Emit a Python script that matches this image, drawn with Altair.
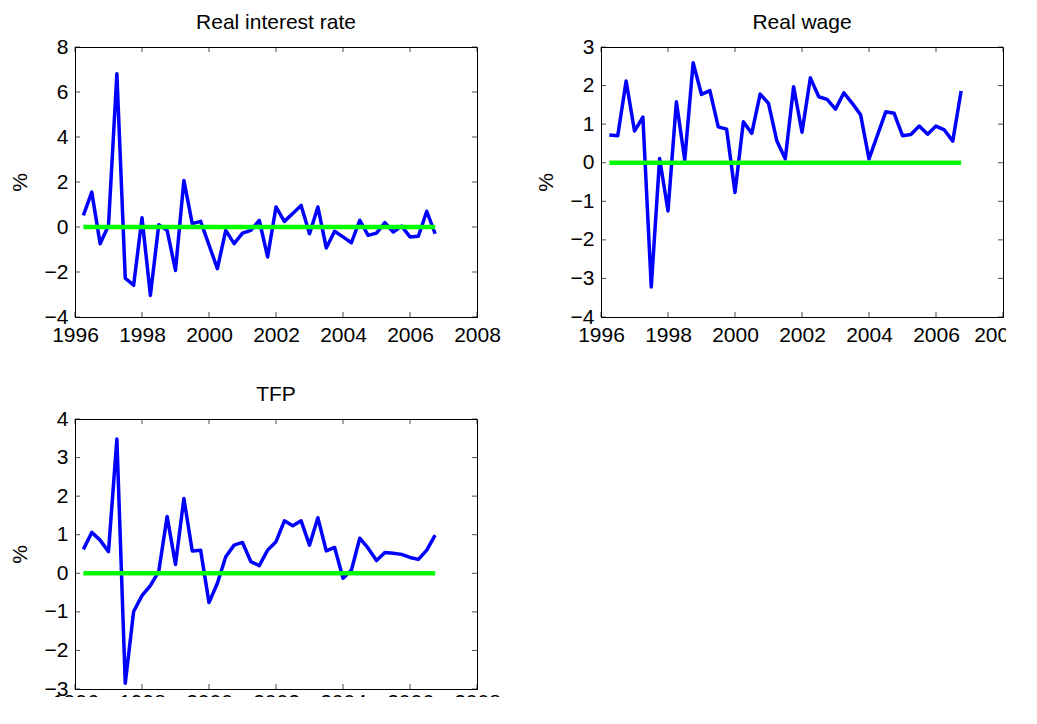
import altair as alt
import pandas as pd

quarters = [1996.25, 1996.5, 1996.75, 1997.0, 1997.25, 1997.5, 1997.75, 1998.0,
            1998.25, 1998.5, 1998.75, 1999.0, 1999.25, 1999.5, 1999.75, 2000.0,
            2000.25, 2000.5, 2000.75, 2001.0, 2001.25, 2001.5, 2001.75, 2002.0,
            2002.25, 2002.5, 2002.75, 2003.0, 2003.25, 2003.5, 2003.75, 2004.0,
            2004.25, 2004.5, 2004.75, 2005.0, 2005.25, 2005.5, 2005.75, 2006.0,
            2006.25, 2006.5, 2006.75]

real_interest_rate = [0.52, 1.55, -0.74, 0.07, 6.81, -2.27, -2.59, 0.41,
                      -3.04, 0.10, -0.15, -1.93, 2.07, 0.15, 0.25, -0.80,
                      -1.85, -0.15, -0.74, -0.27, -0.15, 0.30, -1.33, 0.89,
                      0.25, 0.60, 0.96, -0.30, 0.89, -0.93, -0.19, -0.44,
                      -0.70, 0.30, -0.37, -0.27, 0.19, -0.22, 0.04, -0.44,
                      -0.41, 0.70, -0.30]

real_wage = [0.72, 0.70, 2.12, 0.82, 1.18, -3.22, 0.11, -1.25,
             1.58, 0.07, 2.59, 1.77, 1.87, 0.93, 0.87, -0.77,
             1.06, 0.76, 1.78, 1.54, 0.56, 0.10, 1.97, 0.79,
             2.20, 1.71, 1.64, 1.39, 1.81, 1.54, 1.24, 0.10,
             0.71, 1.32, 1.28, 0.70, 0.73, 0.95, 0.74, 0.95,
             0.85, 0.56, 1.86]

tfp = [0.62, 1.06, 0.86, 0.56, 3.48, -2.85, -0.99, -0.58,
       -0.32, 0.05, 1.47, 0.23, 1.94, 0.58, 0.60, -0.76,
       -0.26, 0.43, 0.73, 0.80, 0.30, 0.20, 0.60, 0.82,
       1.36, 1.23, 1.36, 0.73, 1.44, 0.58, 0.67, -0.13,
       0.08, 0.91, 0.65, 0.33, 0.54, 0.52, 0.49, 0.41,
       0.36, 0.60, 0.99]

x_ticks = [1996, 1998, 2000, 2002, 2004, 2006, 2008]
y_ticks_rate = [-4, -2, 0, 2, 4, 6, 8]
y_ticks_wage = [-4, -3, -2, -1, 0, 1, 2, 3]
y_ticks_tfp = [-3, -2, -1, 0, 1, 2, 3, 4]
zero_x = [1996.25, 2006.75]
zero_y = [0, 0]

W, H = 402, 270
FONT = "Liberation Sans"
FS = 21
TL = 5  # inward tick length


def panel(title, values, y_ticks, xpad=7, last_shift=0):
    ymin, ymax = y_ticks[0], y_ticks[-1]
    df = pd.DataFrame({"t": quarters, "v": values})
    zdf = pd.DataFrame({"t": zero_x, "v": zero_y})
    xt = pd.DataFrame({"t": x_ticks})
    yt = pd.DataFrame({"v": y_ticks})

    xscale = alt.Scale(domain=[1996, 2008], nice=False, zero=False)
    yscale = alt.Scale(domain=[ymin, ymax], nice=False, zero=False)
    xaxis = alt.Axis(values=x_ticks, format="d", title=None, grid=False,
                     ticks=False, tickSize=0, labelPadding=xpad,
                     labelOverlap=False, labelFlush=False,
                     labelOffset=alt.condition("datum.value == 2008",
                                               alt.value(last_shift), alt.value(0)),
                     domainColor="black", labelFontSize=FS,
                     labelFont=FONT, labelColor="black")
    yaxis = alt.Axis(values=y_ticks, format="d", title="%", grid=False,
                     ticks=False, tickSize=0, labelPadding=7,
                     labelOverlap=False, labelFlush=False,
                     domainColor="black", labelFontSize=FS,
                     labelFont=FONT, labelColor="black",
                     titleFont=FONT, titleFontSize=FS,
                     titleFontWeight="normal", titleColor="black",
                     titlePadding=14)

    def X(f="t:Q"):
        return alt.X(f, scale=xscale, axis=xaxis)

    def Y(f="v:Q"):
        return alt.Y(f, scale=yscale, axis=yaxis)

    line = alt.Chart(df).mark_line(color="#0000ff", strokeWidth=3.5,
                                   strokeJoin="round").encode(x=X(), y=Y())
    zero = alt.Chart(zdf).mark_line(color="#00ff00", strokeWidth=4.5).encode(
        x=X(), y=Y())

    tb = alt.Chart(xt).mark_tick(color="black", thickness=1, size=TL).encode(
        x=X(), y=alt.value(H - TL / 2))
    tt = alt.Chart(xt).mark_tick(color="black", thickness=1, size=TL).encode(
        x=X(), y=alt.value(TL / 2))
    tl = alt.Chart(yt).mark_tick(color="black", thickness=1, size=TL).encode(
        y=Y(), x=alt.value(TL / 2))
    tr = alt.Chart(yt).mark_tick(color="black", thickness=1, size=TL).encode(
        y=Y(), x=alt.value(W - TL / 2))

    return alt.layer(line, zero, tb, tt, tl, tr).properties(
        width=W, height=H,
        title=alt.TitleParams(title, fontSize=FS, fontWeight="normal", font=FONT,
                              color="black", offset=3, anchor="middle"))


p1 = panel("Real interest rate", real_interest_rate, y_ticks_rate)
p2 = panel("Real wage", real_wage, y_ticks_wage, last_shift=-6)
p3 = panel("TFP", tfp, y_ticks_tfp, xpad=2)

top = alt.hconcat(p1, p2, spacing=33)
chart = alt.vconcat(top, p3, spacing=37).properties(
    padding={"left": 0, "top": 3, "right": -15, "bottom": -16}
).configure(background="white").configure_view(stroke="black", strokeWidth=1)

chart.save("out.html", embed_options={"renderer": "svg", "actions": False})
